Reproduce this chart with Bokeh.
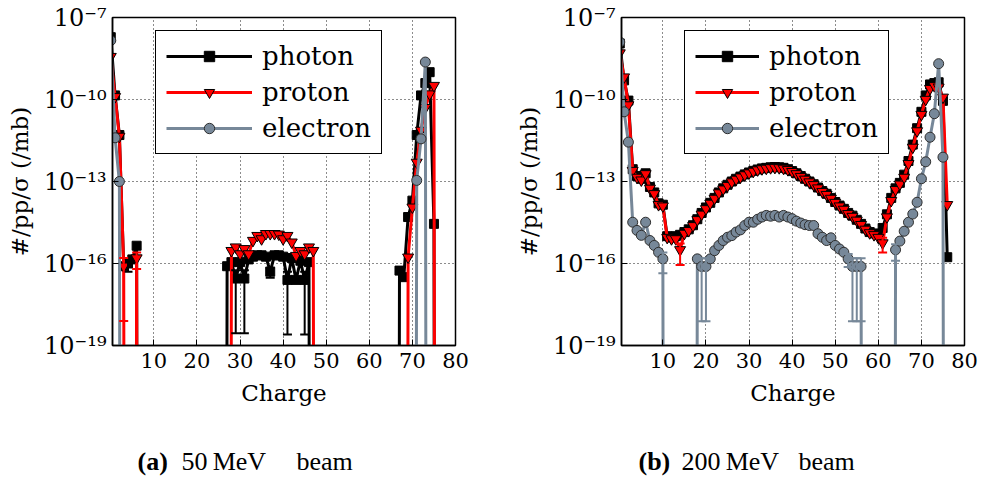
from bokeh.plotting import figure
from bokeh.models import (Range1d, FixedTicker, CustomJSTickFormatter, Legend, LegendItem,
                          ColumnDataSource, Whisker, TeeHead, Label)
from bokeh.layouts import column, row
from bokeh.embed import file_html
from bokeh.resources import INLINE

# ---------------- data (log10 of yield, None = zero yield) ----------------
charge = list(range(77))

photon_50 = ([-7.72, -9.85, -11.3, -16.1, -16.0, -15.85, -15.35] + [None] * 20 +
             [-16.1, -15.95, -16.55, -15.95, -16.55, -15.85, -15.75, -15.7, -15.7, -15.75,
              -16.3, -15.7, -15.7, -15.75, -16.6, -15.8, -16.6, -15.9, -16.6, -15.95] + [None] * 20 +
             [-16.26, -16.5, -14.3, -13.7, -11.3, -9.85, -9.4, -9.0, -14.55, None])
proton_50 = ([-8.43, -9.9, -11.35, -16.1, None, None, -15.8] + [None] * 21 +
             [-15.53, -15.40, -15.65, -15.46, -15.65, -15.16, -14.98, -15.10, -14.91, -14.91,
              -14.91, -14.93, -15.10, -14.98, -15.22, -15.71, -15.53, -15.65, -15.40, -15.53] + [None] * 21 +
             [-15.77, -13.94, -12.3, -11.13, -10.3, -9.8, -9.49, None])
electron_50 = [-7.84, -11.4, -13.0] + [None] * 68 + [-12.96, -11.44, -8.63, None, None, None]

photon_200 = [-7.95, -9.3, -10.04, -12.55, -12.8, -12.9, -12.7, -13.2, -13.4, -13.8,
              -13.85, -15.0, -15.05, -15.0, -14.95, -14.85, -14.75, -14.6, -14.38, -14.15,
              -13.95, -13.78, -13.6, -13.4, -13.25, -13.12, -13.0, -12.9, -12.82, -12.74,
              -12.67, -12.61, -12.56, -12.52, -12.5, -12.48, -12.47, -12.48, -12.5, -12.55,
              -12.62, -12.7, -12.8, -12.9, -13.0, -13.1, -13.22, -13.35, -13.45, -13.6,
              -13.75, -13.88, -14.0, -14.15, -14.25, -14.4, -14.55, -14.72, -14.85, -14.9,
              -14.95, -14.7, -14.2, -13.6, -13.25, -13.05, -12.75, -12.25, -11.65, -11.05,
              -10.45, -9.85, -9.45, -9.4, -9.37, -10.05, -15.77]
proton_200 = [-8.3, -9.18, -10.2, -12.6, -12.85, -12.95, -12.72, -13.25, -13.45, -13.85,
              -13.9, -15.05, -15.1, -15.1, -15.5, -14.9, -14.8, -14.62, -14.4, -14.2,
              -14.0, -13.8, -13.62, -13.42, -13.28, -13.15, -13.02, -12.92, -12.84, -12.76,
              -12.69, -12.63, -12.58, -12.54, -12.52, -12.5, -12.49, -12.5, -12.52, -12.57,
              -12.64, -12.72, -12.82, -12.92, -13.02, -13.12, -13.24, -13.37, -13.48, -13.62,
              -13.77, -13.9, -14.02, -14.18, -14.28, -14.42, -14.58, -14.75, -14.88, -14.95,
              -15.05, -15.25, -14.3, -13.7, -13.3, -13.1, -12.85, -12.35, -11.75, -11.15,
              -10.55, -10.0, -9.6, -9.5, -9.55, -9.92, -13.85]
electron_200 = ([-7.9, -10.45, -11.56, -14.49, -14.79, -14.97, -14.49, -15.16, -15.34, -15.59, -15.83] +
                [None] * 7 +
                [-15.83, -16.11, -16.11, -15.83, -15.53, -15.34, -15.16, -15.04, -14.98, -14.85,
                 -14.77, -14.61, -14.49, -14.49, -14.38, -14.3, -14.24, -14.27, -14.24, -14.3,
                 -14.24, -14.3, -14.36, -14.45, -14.52, -14.58, -14.61, -14.61, -14.91, -15.04,
                 -15.16, -15.06, -15.34, -15.47, -15.59, -15.83, -16.11, -16.11, -16.11] +
                [None] * 7 +
                [-15.5, -15.18, -14.82, -14.49, -14.19, -13.76, -12.9, -12.28, -11.38, -10.52,
                 -8.69, -12.11, None])

# visible error bars: charge and relative error
photon_50_err_x = [4, 29, 31, 37, 41, 45]
photon_50_err_rel = [0.5, 0.99, 0.99, 0.4, 0.99, 0.99]
proton_50_err_x = [3, 6]
proton_50_err_rel = [0.99, 0.6]
proton_200_err_x = [14, 61]
proton_200_err_rel = [0.72, 0.55]
electron_200_err_x = [10, 19, 20, 53, 54, 55, 56, 64]
electron_200_err_rel = [0.7, 0.99, 0.99, 0.5, 0.99, 0.99, 0.99, 0.6]

x_ticks = [10, 20, 30, 40, 50, 60, 70, 80]
y_ticks = [1e-19, 1e-16, 1e-13, 1e-10, 1e-7]
series_names = ["photon", "proton", "electron"]

for arr in (photon_50, proton_50, electron_50, photon_200, proton_200, electron_200):
    assert len(arr) == len(charge), len(arr)

FLOOR = 1e-100  # zero yield drawn far below the axis (as matplotlib clips log(0))

STYLE = {
    "photon": dict(color="black", marker="square", size=9, fill="black", edge="black"),
    "proton": dict(color="#ff0000", marker="inverted_triangle", size=11, fill="#ff0000", edge="black"),
    "electron": dict(color="#778899", marker="circle", size=10, fill="#778899", edge="#2f2f2f"),
}
FONT = "DejaVu Serif"

sup_js = r"""
const e = Math.round(Math.log10(tick));
const m = {'-':'\u207b','0':'\u2070','1':'\u00b9','2':'\u00b2','3':'\u00b3','4':'\u2074',
           '5':'\u2075','6':'\u2076','7':'\u2077','8':'\u2078','9':'\u2079'};
return '10' + String(e).split('').map(c => m[c]).join('');
"""


def yvals(logs):
    return [FLOOR if v is None else 10.0 ** v for v in logs]


def panel(series, errs, width, bl, br, legend_loc, glyph_w):
    p = figure(width=width, height=410, output_backend="svg", toolbar_location=None,
               x_range=Range1d(0.4, 80), y_range=Range1d(1e-19, 1e-7), y_axis_type="log",
               min_border_left=bl, min_border_right=br, min_border_top=17, min_border_bottom=65)
    p.background_fill_color = "white"
    p.border_fill_color = "white"
    p.outline_line_color = "black"
    p.outline_line_width = 1.5
    p.outline_line_alpha = 1.0

    p.xaxis.ticker = FixedTicker(ticks=x_ticks)
    p.yaxis.ticker = FixedTicker(ticks=y_ticks)
    p.yaxis.formatter = CustomJSTickFormatter(code=sup_js)
    for ax in (p.xaxis, p.yaxis):
        ax.major_tick_in = 6
        ax.major_tick_out = 0
        ax.minor_tick_line_color = None
        ax.axis_line_color = "black"
        ax.axis_line_width = 1.5
        ax.major_label_text_font = FONT
        ax.major_label_text_color = "black"
        ax.axis_label_text_font = FONT
        ax.axis_label_text_font_style = "normal"
        ax.axis_label_text_font_size = "23px"
        ax.axis_label_text_color = "black"
    p.xaxis.major_label_text_font_size = "21px"
    p.yaxis.major_label_text_font_size = "24px"
    p.xaxis.major_label_standoff = 7
    p.yaxis.major_label_standoff = 6
    p.xaxis.axis_label = "Charge"
    p.yaxis.axis_label = "#/pp/\u03c3 (/mb)"
    p.xaxis.axis_label_standoff = 9
    p.yaxis.axis_label_standoff = 8

    for g in (p.xgrid, p.ygrid):
        g.grid_line_color = "black"
        g.grid_line_dash = "1 3"
        g.grid_line_width = 1
        g.grid_line_alpha = 0.9
    p.xgrid.ticker = FixedTicker(ticks=x_ticks)
    p.ygrid.ticker = FixedTicker(ticks=y_ticks)

    items = []
    for name, logs in zip(series_names, series):
        st = STYLE[name]
        ys = yvals(logs)
        src = ColumnDataSource(dict(x=charge, y=ys))
        lr = p.line("x", "y", source=src, line_color=st["color"], line_width=3)
        sr = p.scatter("x", "y", source=src, marker=st["marker"], size=st["size"],
                       fill_color=st["fill"], line_color=st["edge"], line_width=1)
        if name in errs:
            ex, er = errs[name]
            base = [float(x) for x in ex]
            v = [ys[x] for x in ex]
            lo = [a * (1 - r) for a, r in zip(v, er)]
            hi = [a * (1 + r) for a, r in zip(v, er)]
            esrc = ColumnDataSource(dict(base=base, lower=lo, upper=hi))
            w = Whisker(base="base", lower="lower", upper="upper", source=esrc,
                        line_color=st["color"], line_width=2, level="glyph",
                        lower_head=TeeHead(size=9, line_color=st["color"], line_width=2),
                        upper_head=TeeHead(size=9, line_color=st["color"], line_width=2))
            p.add_layout(w)
        items.append(LegendItem(label=name, renderers=[lr, sr]))

    leg = Legend(items=items, location=legend_loc, margin=0, padding=10, spacing=6,
                 glyph_width=glyph_w, glyph_height=26, label_height=26, label_standoff=10,
                 label_text_font=FONT, label_text_font_size="26px", label_text_color="black",
                 border_line_color="black", border_line_width=1.5, border_line_alpha=1.0,
                 background_fill_color="white", background_fill_alpha=1.0)
    p.add_layout(leg)
    return p


p1 = panel((photon_50, proton_50, electron_50),
           {"photon": (photon_50_err_x, photon_50_err_rel),
            "proton": (proton_50_err_x, proton_50_err_rel)},
           490, 112, 35, (43, 191), 86)
p2 = panel((photon_200, proton_200, electron_200),
           {"proton": (proton_200_err_x, proton_200_err_rel),
            "electron": (electron_200_err_x, electron_200_err_rel)},
           491, 131, 17, (63, 191), 64)


def caption(width, parts):
    c = figure(width=width, height=69, output_backend="svg", toolbar_location=None,
               x_range=Range1d(0, width), y_range=Range1d(0, 69),
               min_border_left=0, min_border_right=0,
               min_border_top=0, min_border_bottom=0)
    c.axis.visible = False
    c.grid.visible = False
    c.outline_line_color = None
    for xpos, txt, style in parts:
        c.add_layout(Label(x=xpos, y=18, text=txt, text_font="Liberation Serif",
                           text_font_size="26px", text_font_style=style, text_color="black",
                           text_baseline="alphabetic", text_align="left"))
    return c


c1 = caption(490, [(137, "(a)", "bold"), (181, "50\u2009MeV", "normal"), (296, "beam", "normal")])
c2 = caption(491, [(148, "(b)", "bold"), (191, "200\u2009MeV", "normal"), (308, "beam", "normal")])

layout = column(row(p1, p2), row(c1, c2))

open("out.html", "w", encoding="utf-8").write(file_html(layout, INLINE))
